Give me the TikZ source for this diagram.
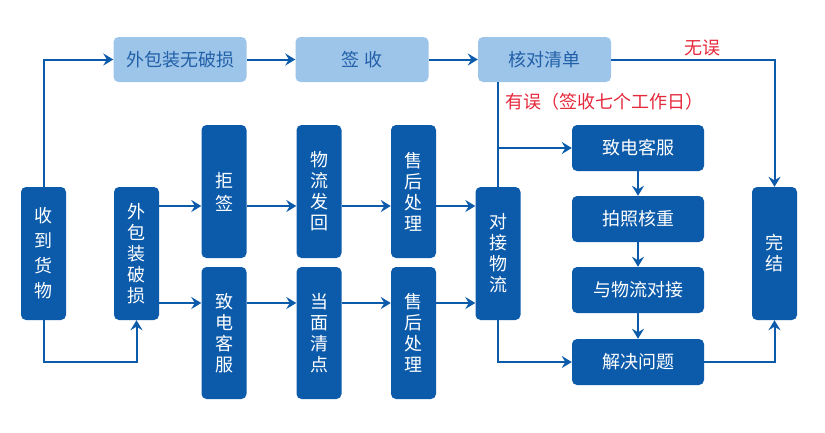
\documentclass[tikz,border=0pt]{standalone}
\usepackage{fontspec}
\newfontfamily\cjk{Noto Sans CJK SC}
\usetikzlibrary{arrows.meta}
\definecolor{boxblue}{RGB}{12,91,170}
\definecolor{lightblue}{RGB}{157,196,233}
\definecolor{txtblue}{RGB}{33,96,168}
\definecolor{errred}{RGB}{230,40,60}
\begin{document}
\begin{tikzpicture}[x=1pt, y=-1pt,
  vbox/.style={rectangle, rounded corners=5pt, fill=boxblue, text=white, inner sep=0pt,
    minimum width=45pt, minimum height=133pt, align=center,
    font=\cjk\fontsize{18}{21}\selectfont},
  hbox/.style={rectangle, rounded corners=5pt, fill=boxblue, text=white, inner sep=0pt,
    minimum width=132pt, minimum height=46pt, font=\cjk\fontsize{18}{21}\selectfont},
  topbox/.style={rectangle, rounded corners=5pt, fill=lightblue, text=txtblue, inner sep=0pt,
    minimum width=133pt, minimum height=45pt, font=\cjk\fontsize{18}{21}\selectfont},
  note/.style={text=errred, inner sep=0pt, font=\cjk\fontsize{18}{21}\selectfont},
  line/.style={draw=boxblue, line width=2pt},
  arr/.style={line, -{Stealth[length=10pt, width=12pt, inset=3.5pt]}}]
 \useasboundingbox (0,0) rectangle (825,432);
 % top row
 \node[topbox] (wb) at (180,59.5) {外包装无破损};
 \node[topbox] (qs) at (362,59.5) {签 收};
 \node[topbox] (hd) at (544.5,59.5) {核对清单};
 % left column
 \node[vbox, font=\cjk\fontsize{18}{25}\selectfont] (sh) at (43.5,253.5) {收\\到\\货\\物};
 \node[vbox] (ps) at (136.5,253.5) {外\\包\\装\\破\\损};
 \node[vbox] (jq) at (224,191.5) {拒\\[2pt]签};
 \node[vbox, minimum height=132pt] (zd1) at (224,333) {致\\电\\客\\服};
 \node[vbox] (wl) at (319,191.5) {物\\流\\发\\回};
 \node[vbox, minimum height=132pt] (dm) at (319,333) {当\\面\\清\\点};
 \node[vbox] (sh1) at (413.5,191.5) {售\\后\\处\\理};
 \node[vbox, minimum height=132pt] (sh2) at (413.5,333) {售\\后\\处\\理};
 \node[vbox] (dj) at (498,253.5) {对\\接\\物\\流};
 % right column
 \node[hbox] (zd2) at (638,148) {致电客服};
 \node[hbox] (pz) at (638,219) {拍照核重};
 \node[hbox] (yw) at (638,290) {与物流对接};
 \node[hbox] (jj) at (638,362) {解决问题};
 \node[vbox] (wj) at (774.5,253.5) {完\\结};
 % labels
 \node[note] (ok) at (702,48) {无误};
 \node[note, anchor=west] (err) at (505,102) {有误（签收七个工作日）};
 \coordinate (r1) at (0,206);
 \coordinate (r2) at (0,303);
 % connectors
 \draw[arr] (sh.north) |- (wb.west);
 \draw[arr] (sh.south) -- (sh.south |- jj) -| (ps.south);
 \draw[arr] (wb) -- (qs);
 \draw[arr] (qs) -- (hd);
 \draw[arr] (hd.east) -| (wj.north);
 \draw[arr] (ps.east |- r1) -- (jq.west |- r1);
 \draw[arr] (ps.east |- r2) -- (zd1.west |- r2);
 \draw[arr] (jq.east |- r1) -- (wl.west |- r1);
 \draw[arr] (wl.east |- r1) -- (sh1.west |- r1);
 \draw[arr] (sh1.east |- r1) -- (dj.west |- r1);
 \draw[arr] (zd1.east |- r2) -- (dm.west |- r2);
 \draw[arr] (dm.east |- r2) -- (sh2.west |- r2);
 \draw[arr] (sh2.east |- r2) -- (dj.west |- r2);
 \draw[line] (dj.north) -- (dj.north |- hd.south);
 \draw[arr] (dj.north |- zd2.west) -- (zd2.west);
 \draw[arr] (dj.south) |- (jj.west);
 \draw[arr] (zd2) -- (pz);
 \draw[arr] (pz) -- (yw);
 \draw[arr] (yw) -- (jj);
 \draw[arr] (jj.east) -| (wj.south);
\end{tikzpicture}
\end{document}
